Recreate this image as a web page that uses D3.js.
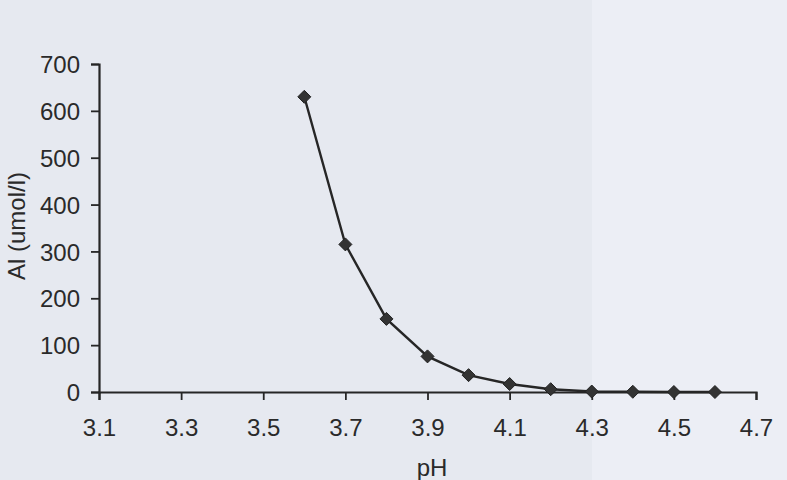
<!DOCTYPE html>
<html>
<head>
<meta charset="utf-8">
<script src="https://cdn.jsdelivr.net/npm/d3@7"></script>
<style>
  html, body { margin: 0; padding: 0; background: #e7eaf0; }
  svg { display: block; }
  text { font-family: "Liberation Sans", Arial, Helvetica, sans-serif; fill: #2a2a2a; }
</style>
</head>
<body>
<script>
const phValues = [3.6, 3.7, 3.8, 3.9, 4.0, 4.1, 4.2, 4.3, 4.4, 4.5, 4.6];
const alValues = [630, 315, 156, 76, 36, 17, 6, 1, 0.5, 0, 0];
const xTicks = [3.1, 3.3, 3.5, 3.7, 3.9, 4.1, 4.3, 4.5, 4.7];
const yTicks = [0, 100, 200, 300, 400, 500, 600, 700];
const xLabel = "pH";
const yLabel = "Al (umol/l)";

const W = 787, H = 480;
const svg = d3.select("body").append("svg").attr("width", W).attr("height", H);

svg.append("rect").attr("width", W).attr("height", H).attr("fill", "#e6e9f0");
svg.append("rect").attr("x", 592).attr("width", W - 592).attr("height", H).attr("fill", "#eceef5");

const x = d3.scaleLinear().domain([3.1, 4.7]).range([99, 756]);
const y = d3.scaleLinear().domain([0, 700]).range([392, 64]);

const ink = "#262626";
const fs = 24;

const yAxis = svg.append("g").attr("transform", `translate(${x(3.1)},0)`)
  .call(d3.axisLeft(y).tickValues(yTicks).tickSize(8).tickPadding(11).tickFormat(d3.format("d")));
const xAxis = svg.append("g").attr("transform", `translate(0,${y(0)})`)
  .call(d3.axisBottom(x).tickValues(xTicks).tickSize(8).tickPadding(19).tickFormat(d3.format(".1f")));

[xAxis, yAxis].forEach(g => {
  g.attr("font-size", fs).attr("font-family", "'Liberation Sans', Arial, sans-serif");
  g.select(".domain").attr("stroke", ink).attr("stroke-width", 2.2);
  g.selectAll(".tick line").attr("stroke", ink).attr("stroke-width", 1.8);
  g.selectAll(".tick text").attr("font-size", fs).attr("fill", "#2a2a2a");
});
yAxis.selectAll(".tick text").attr("dy", "0.36em");

const data = phValues.map((p, i) => ({ p, v: alValues[i] }));

svg.append("path").datum(data)
  .attr("fill", "none").attr("stroke", ink).attr("stroke-width", 2.4)
  .attr("d", d3.line().x(d => x(d.p)).y(d => y(d.v)));

svg.selectAll(".pt").data(data).join("path")
  .attr("class", "pt")
  .attr("transform", d => `translate(${x(d.p)},${y(d.v)})`)
  .attr("d", "M0,-6.5L6.5,0L0,6.5L-6.5,0Z")
  .attr("fill", "#333").attr("stroke", "#222").attr("stroke-width", 1);

svg.append("text").attr("x", 432).attr("y", 476).attr("text-anchor", "middle")
  .attr("font-size", fs).text(xLabel);

svg.append("text").attr("transform", "translate(25,226) rotate(-90)")
  .attr("text-anchor", "middle").attr("font-size", fs).text(yLabel);
</script>
</body>
</html>
